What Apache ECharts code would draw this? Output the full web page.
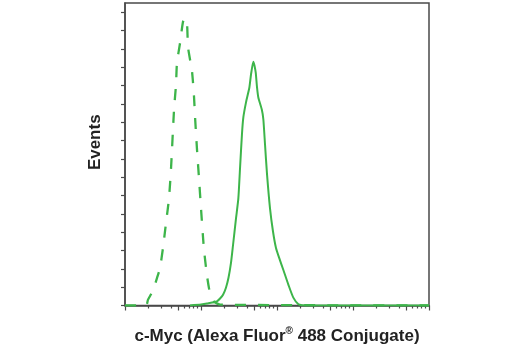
<!DOCTYPE html>
<html>
<head>
<meta charset="utf-8">
<script src="https://cdn.jsdelivr.net/npm/echarts@6/dist/echarts.min.js"></script>
<style>html,body{margin:0;padding:0;background:#fff;}#c{width:520px;height:350px;}</style>
</head>
<body>
<div id="c"></div>
<script>
// Isotype control (dashed): fluorescence intensity and event counts (relative units)
const isotypeIntensity = [1, 1.89, 2.01, 2.33, 2.64, 2.89, 3.16, 3.46, 3.79, 4.03, 4.42, 4.69, 4.83, 5.30, 5.79, 6.15, 6.55, 6.75, 7.62, 8.09, 8.34, 8.85, 9.42, 10.0, 10.9, 12.0, 13.1, 14.8, 17.8, 10000];
const isotypeEvents    = [0, 0, 0.32, 0.81, 1.51, 2.05, 3.14, 4.49, 5.84, 7.46, 10.7, 12.05, 13.24, 14.32, 15.46, 15.68, 15.35, 14.1, 12.76, 11.4, 10.32, 8.54, 6.92, 5.3, 3.14, 1.62, 0.70, 0.22, 0.05, 0];
// c-Myc (Alexa Fluor 488 Conjugate) (solid)
const cmycIntensity = [7.16, 10, 12.0, 14.0, 16.2, 17.8, 19.5, 21.3, 23.0, 24.8, 26.4, 28.9, 31.0, 32.6, 34.6, 36.1, 39.1, 43.3, 45.5, 48.8, 50.6, 52.5, 54.6, 56.8, 63.0, 66.1, 69.5, 73.8, 80.9, 88.5, 97.0, 109, 121, 141, 164, 191, 213, 272, 10000];
const cmycEvents    = [0, 0.05, 0.11, 0.16, 0.22, 0.38, 0.59, 0.97, 1.51, 2.32, 3.3, 4.76, 5.84, 7.46, 9.35, 10.27, 11.08, 11.89, 12.6, 13.3, 13.08, 12.7, 11.9, 11.35, 10.7, 10.16, 8.81, 7.19, 5.3, 4.05, 3.14, 2.49, 1.95, 1.14, 0.43, 0.07, 0.02, 0, 0];
// Axis ticks
const xMajorTicks = [1, 5, 10, 50, 100, 500, 1000, 5000, 10000];
const xMinorTicks = [2, 3, 4, 6, 7, 8, 9, 20, 30, 40, 60, 70, 80, 90, 200, 300, 400, 600, 700, 800, 900, 2000, 3000, 4000, 6000, 7000, 8000, 9000];
const yTicks = [0, 1, 2, 3, 4, 5, 6, 7, 8, 9, 10, 11, 12, 13, 14, 15, 16];

const xTitle = 'c-Myc (Alexa Fluor';
const xTitleSup = '®';
const xTitleEnd = ' 488 Conjugate)';
const yTitle = 'Events';

const green = '#3db54a';
const axisColor = '#4a4a4a';
const font = "'Liberation Sans', Arial, sans-serif";

const zip = (a, b) => a.map((v, i) => [v, b[i]]);

const chart = echarts.init(document.getElementById('c'), null, {renderer: 'canvas'});
chart.setOption({
  animation: false,
  backgroundColor: '#fff',
  grid: {left: 125, right: 91, top: 3, bottom: 42, show: true, borderColor: axisColor, borderWidth: 1.5, backgroundColor: 'transparent'},
  xAxis: [{
    type: 'log', logBase: 10, min: 1, max: 10000, position: 'bottom',
    axisLine: {show: true, lineStyle: {color: axisColor, width: 1.5}},
    axisTick: {show: true, inside: false, length: 5, customValues: xMajorTicks, lineStyle: {color: axisColor, width: 1.2}},
    axisLabel: {show: false},
    splitLine: {show: false}, minorTick: {show: false},
    name: '{a|' + xTitle + '}{s|' + xTitleSup + '}{a|' + xTitleEnd + '}',
    nameLocation: 'middle', nameGap: 21,
    nameTextStyle: {
      rich: {
        a: {fontFamily: font, fontWeight: 'bold', fontSize: 17, color: '#222', lineHeight: 20},
        s: {fontFamily: font, fontWeight: 'bold', fontSize: 10, color: '#222', lineHeight: 20, verticalAlign: 'top', padding: [0, 0, 6, 0]}
      }
    }
  }, {
    type: 'log', logBase: 10, min: 1, max: 10000, position: 'bottom',
    axisLine: {show: false},
    axisTick: {show: true, inside: false, length: 3, customValues: xMinorTicks, lineStyle: {color: axisColor, width: 1.2}},
    axisLabel: {show: false},
    splitLine: {show: false}
  }],
  yAxis: {
    type: 'value', min: 0, max: 16.5,
    axisLine: {show: true, lineStyle: {color: axisColor, width: 1.5}},
    axisTick: {show: true, inside: false, length: 4, customValues: yTicks, lineStyle: {color: axisColor, width: 1.2}},
    axisLabel: {show: false},
    splitLine: {show: false},
    name: yTitle, nameLocation: 'middle', nameGap: 21, nameRotate: 90,
    nameTextStyle: {fontFamily: font, fontWeight: 'bold', fontSize: 17, color: '#222', padding: [0, 0, 0, 24]}
  },
  series: [{
    type: 'line', xAxisIndex: 0, data: zip(isotypeIntensity, isotypeEvents),
    showSymbol: false, smooth: 0.2,
    lineStyle: {color: green, width: 2.3, type: [11, 12]}
  }, {
    type: 'line', xAxisIndex: 0, data: zip(cmycIntensity, cmycEvents),
    showSymbol: false, smooth: 0.2,
    lineStyle: {color: green, width: 2}
  }]
});
</script>
</body>
</html>
